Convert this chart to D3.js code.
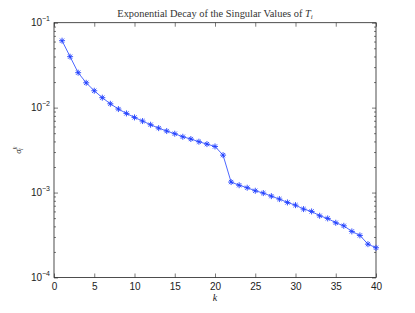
<!DOCTYPE html>
<html>
<head>
<meta charset="utf-8">
<script src="https://cdn.jsdelivr.net/npm/d3@7"></script>
<style>
  body { margin: 0; background: #fff; }
  svg { display: block; }
</style>
</head>
<body>
<div id="chart"></div>
<script>
// singular value index k
const kValues = d3.range(1, 41);
// sigma values
const sigmaValues = [
  0.0614, 0.0398, 0.0258, 0.0196, 0.0158, 0.0131, 0.0111, 0.00962, 0.00855, 0.00767,
  0.00695, 0.00629, 0.00574, 0.00530, 0.00493, 0.00454, 0.00427, 0.00397, 0.00372, 0.00349,
  0.00276, 0.00133, 0.00122, 0.00114, 0.00105, 0.000986, 0.000908, 0.000838, 0.000765, 0.000711,
  0.000639, 0.000600, 0.000533, 0.000496, 0.000441, 0.000406, 0.000349, 0.000313, 0.000247, 0.000224
];
const xTicks = [0, 5, 10, 15, 20, 25, 30, 35, 40];
const yDecades = [-4, -3, -2, -1];

const width = 415, height = 313;
const margin = {top: 22.7, right: 39, bottom: 35.5, left: 54};
const innerW = width - margin.left - margin.right;
const innerH = height - margin.top - margin.bottom;
const lineColor = "#2040ff";

let svg = d3.select("#chart").append("svg")
    .attr("width", width)
    .attr("height", height);

let x = d3.scaleLinear().domain([0, 40]).range([0, innerW]);
let y = d3.scaleLog().domain([1e-4, 1e-1]).range([innerH, 0]);

let g = svg.append("g")
    .attr("transform", "translate(" + margin.left + "," + margin.top + ")");

// minor log ticks
let minorTicks = [];
yDecades.slice(0, 3).forEach(function(e){
    for(let m = 2; m <= 9; m++) minorTicks.push(m * Math.pow(10, e));
});
let majorTicks = yDecades.map(function(e){ return Math.pow(10, e); });

function styleAxis(sel){
    sel.select(".domain").remove();
    sel.selectAll(".tick line").attr("stroke", "#222").attr("stroke-width", 0.6);
    sel.selectAll(".tick text")
        .attr("fill", "#222")
        .style("font-family", "'Liberation Sans', Arial, sans-serif")
        .style("font-size", "10px");
}

// bottom axis
g.append("g")
    .attr("transform", "translate(0," + innerH + ")")
    .call(d3.axisBottom(x).tickValues(xTicks).tickSize(-4).tickPadding(5).tickFormat(d3.format("d")))
    .call(styleAxis);
// top axis ticks
g.append("g")
    .call(d3.axisTop(x).tickValues(xTicks).tickSize(-4).tickFormat(""))
    .call(styleAxis);

// left axis majors
let leftAxis = g.append("g")
    .call(d3.axisLeft(y).tickValues(majorTicks).tickSize(-4).tickPadding(5).tickFormat(""))
    .call(styleAxis);
leftAxis.selectAll(".tick").append("text")
    .attr("x", -4)
    .attr("y", 3)
    .attr("text-anchor", "end")
    .attr("fill", "#222")
    .style("font-family", "'Liberation Sans', Arial, sans-serif")
    .style("font-size", "10px")
    .each(function(d){
        let t = d3.select(this);
        t.append("tspan").text("10");
        t.append("tspan")
            .attr("dy", -5)
            .style("font-size", "7px")
            .text(String(Math.round(Math.log10(d))).replace("-", "\u2212"));
    });
g.append("g")
    .call(d3.axisLeft(y).tickValues(minorTicks).tickSize(-2).tickFormat(""))
    .call(styleAxis);

// right axis
g.append("g")
    .attr("transform", "translate(" + innerW + ",0)")
    .call(d3.axisRight(y).tickValues(majorTicks).tickSize(-4).tickFormat(""))
    .call(styleAxis);
g.append("g")
    .attr("transform", "translate(" + innerW + ",0)")
    .call(d3.axisRight(y).tickValues(minorTicks).tickSize(-2).tickFormat(""))
    .call(styleAxis);

// frame
g.append("rect")
    .attr("width", innerW)
    .attr("height", innerH)
    .attr("fill", "none")
    .attr("stroke", "#222")
    .attr("stroke-width", 0.8);

// data line
let data = kValues.map(function(k, i){ return {k: k, v: sigmaValues[i]}; });
let line = d3.line()
    .x(function(d){ return x(d.k); })
    .y(function(d){ return y(d.v); });

g.append("path")
    .datum(data)
    .attr("d", line)
    .attr("fill", "none")
    .attr("stroke", lineColor)
    .attr("stroke-width", 0.8);

// asterisk markers
let r = 3;
let starPath = "M" + (-r) + ",0L" + r + ",0M0," + (-r) + "L0," + r +
    "M" + (-r * 0.7) + "," + (-r * 0.7) + "L" + (r * 0.7) + "," + (r * 0.7) +
    "M" + (-r * 0.7) + "," + (r * 0.7) + "L" + (r * 0.7) + "," + (-r * 0.7);
g.selectAll(".marker")
    .data(data)
    .enter()
    .append("path")
    .attr("class", "marker")
    .attr("transform", function(d){ return "translate(" + x(d.k) + "," + y(d.v) + ")"; })
    .attr("d", starPath)
    .attr("fill", "none")
    .attr("stroke", lineColor)
    .attr("stroke-width", 0.9);

// title
let title = svg.append("text")
    .attr("x", margin.left + innerW / 2)
    .attr("y", 17)
    .attr("text-anchor", "middle")
    .attr("fill", "#333")
    .style("font-family", "'Liberation Serif', 'DejaVu Serif', serif")
    .style("font-size", "10.4px");
title.append("tspan").text("Exponential Decay of the Singular Values of ");
title.append("tspan").style("font-style", "italic").text("T");
title.append("tspan").attr("dy", 2).style("font-size", "7px").style("font-style", "italic").text("i");

// x label
svg.append("text")
    .attr("x", margin.left + innerW / 2)
    .attr("y", 301)
    .attr("text-anchor", "middle")
    .attr("fill", "#222")
    .style("font-family", "'Liberation Serif', 'DejaVu Serif', serif")
    .style("font-style", "italic")
    .style("font-size", "10px")
    .text("k");

// y label
let ylab = svg.append("text")
    .attr("transform", "translate(21," + (margin.top + innerH / 2) + ") rotate(-90)")
    .attr("text-anchor", "middle")
    .attr("fill", "#222")
    .style("font-family", "'Liberation Serif', 'DejaVu Serif', serif")
    .style("font-style", "italic")
    .style("font-size", "9px");
ylab.append("tspan").text("\u03c3");
ylab.append("tspan").attr("dy", -4).style("font-size", "6px").text("k");
ylab.append("tspan").attr("dx", -3.5).attr("dy", 6).style("font-size", "6px").text("i");
</script>
</body>
</html>
